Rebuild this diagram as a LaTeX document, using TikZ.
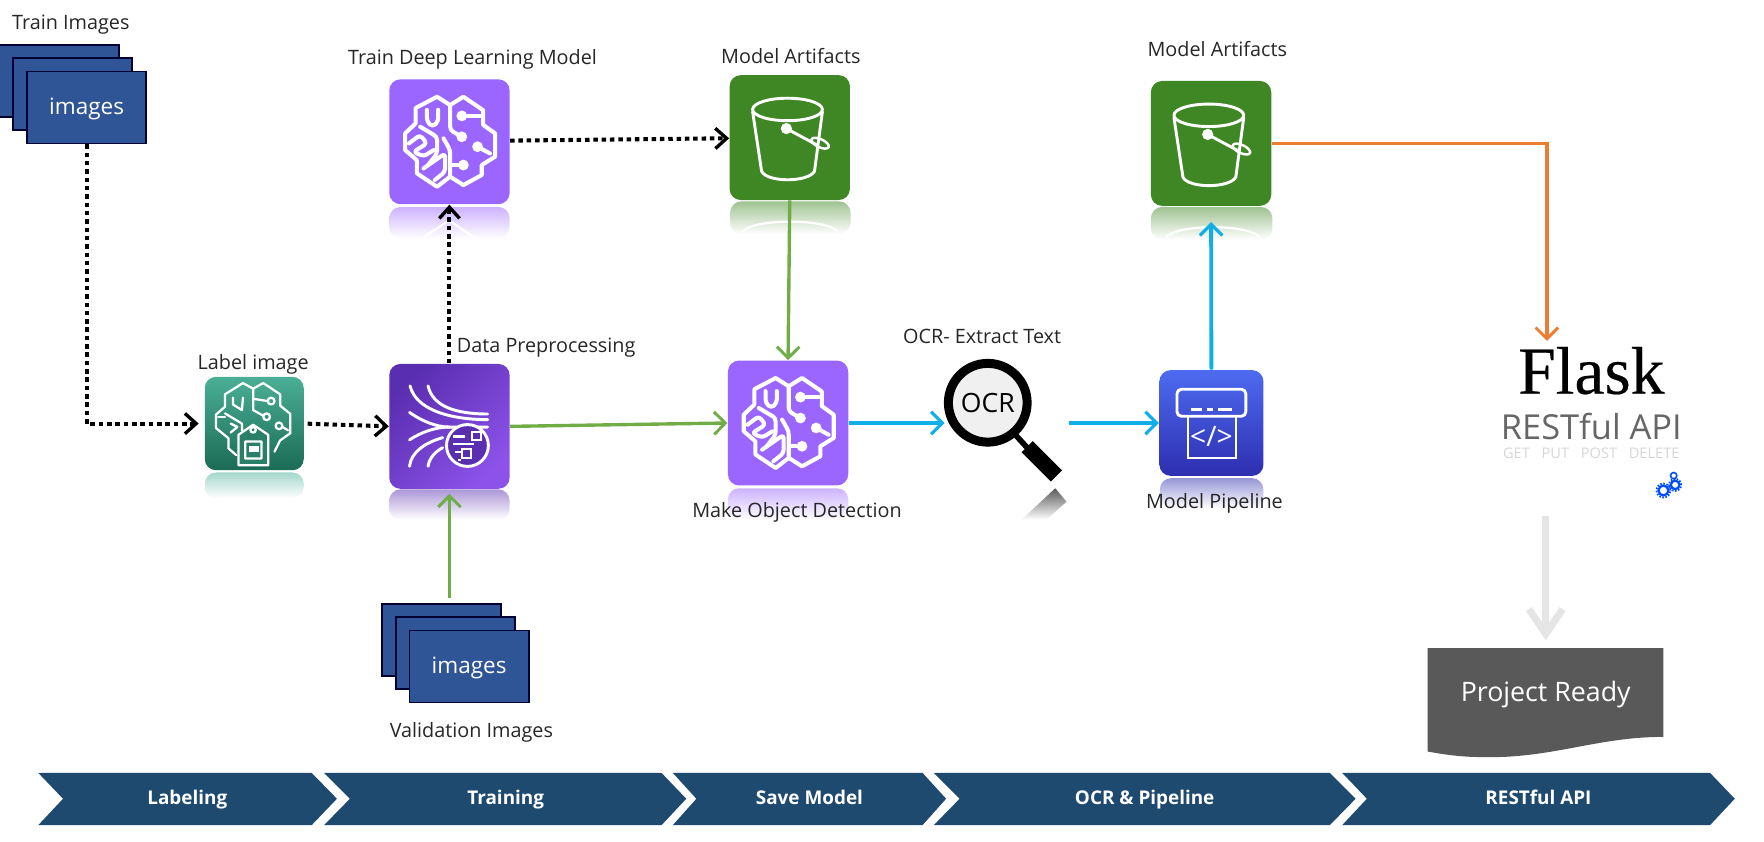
\documentclass[tikz,border=0pt]{standalone}
\usepackage{fontspec}
\setmainfont{Open Sans}
\newfontfamily\flaskfont[FakeBold=0.3]{Liberation Serif}
\usetikzlibrary{arrows.meta,calc}

\definecolor{cardblue}{HTML}{2F5597}
\definecolor{brainpurple}{HTML}{9B66FF}
\definecolor{bucketgreen}{HTML}{3F8624}
\definecolor{linegreen}{HTML}{70AD47}
\definecolor{lineblue}{HTML}{12AEE8}
\definecolor{lineorange}{HTML}{ED7D31}
\definecolor{stagenavy}{HTML}{1F4A6F}
\definecolor{readygray}{HTML}{595959}
\definecolor{preprocdark}{HTML}{5A2EB0}
\definecolor{preproclight}{HTML}{8C52EA}
\definecolor{labeltop}{HTML}{4AAF96}
\definecolor{labelbottom}{HTML}{1B6B55}
\definecolor{pipetop}{HTML}{4D6BF0}
\definecolor{pipebottom}{HTML}{2E2EB0}

\tikzset{
  caption/.style={font=\fontsize{8.8}{10}\selectfont,text=black!85,inner sep=0,yshift=-1pt},
  imgcard/.style={draw=black!80!blue,line width=0.8pt,fill=cardblue,text=white,inner sep=0,
    minimum width=53pt,minimum height=32pt,font=\fontsize{10}{12}\selectfont},
  iconbox/.style={rounded corners=5pt,inner sep=0,minimum width=53.5pt,minimum height=55.5pt},
  iconline/.style={draw=white,line width=1.3pt,line join=round,line cap=round},
  brainline/.style={draw=white,line width=1.8pt,line join=round,line cap=round,rounded corners=1.5pt},
  tagline/.style={draw=white,line width=1pt,line join=round,line cap=round},
  dotflow/.style={line width=1.8pt,dash pattern=on 2pt off 1.7pt,-{Straight Barb[length=5pt,width=9pt,line width=1.5pt]}},
  greenflow/.style={draw=linegreen,line width=1.5pt,-{Straight Barb[length=5pt,width=10pt,line width=1.3pt]}},
  blueflow/.style={draw=lineblue,line width=1.7pt,-{Straight Barb[length=5pt,width=10pt,line width=1.4pt]}},
}

% mirrored fade under an icon
\newcommand{\iconfade}[5]{\shade[rounded corners=5pt,top color=#5!50,bottom color=white] (#1,#2) rectangle (#3,#4);}

\newcommand{\brainicon}[2]{
  \begin{scope}[shift={(#1,#2)}]
    \draw[iconline,line width=1.8pt] (-11,-40) -- (0.6,-32.6) -- (12.4,-40) -- (30,-28) -- (30,-15) -- (40.6,-7.4) -- (40.6,13.3)
      -- (28.7,20.7) -- (28.7,29.6) -- (12.4,38.5) -- (0.6,31) -- (-11,40) -- (-29,28) -- (-29,16.3) -- (-39.4,7.4)
      -- (-39.4,-7.4) -- (-30,-16.3) -- (-30,-30) -- cycle;
    \draw[brainline] (0.6,-32.6) -- (0.6,-10.4) -- (11,-4.4);
    \draw[brainline] (11,-23) -- (27,-23);
    \draw[brainline] (25,4.4) -- (36,10.4);
    \draw[brainline] (12.4,20.7) -- (0.6,20.7);
    \draw[brainline] (0.6,31) -- (0.6,7.4) -- (-5.3,-3);
    \draw[brainline] (-20,-28.4) -- (-20,-18) -- (-15,-13.3) -- (-10,-18) -- (-10,-28.4);
    \draw[brainline] (-26,-13.3) -- (-11,-4.4) -- (-11,10.4) -- (-19,20.7);
    \draw[brainline] (-36,1.5) -- (-26,-6) -- (-20,1.5) -- (-32,9) -- (-23,13) -- (-14,7.4);
    \draw[brainline] (-23,23.7) -- (-3.9,10.4) -- (-3.9,26.7) -- (-13,34);
    \fill[white] (11,-4.4) circle (2.4pt) (11,-23) circle (2.4pt) (25,4.4) circle (2.4pt) (12.4,20.7) circle (2.4pt);
  \end{scope}
}
\newcommand{\bucketicon}[2]{
  \begin{scope}[shift={(#1,#2)}]
    \draw[iconline] (-2,-25) ellipse (15.5pt and 5pt);
    \draw[iconline] (-33,-23) -- (-25,30) .. controls (-20,40) and (16,40) .. (22,30) -- (29,-23);
    \draw[iconline] (-3,-8) -- (25,7);
    \draw[iconline,line width=1.1pt,rotate around={-25:(27,5)}] (27,5) ellipse (4.2pt and 1.8pt);
    \fill[white] (-3,-8) circle (2.5pt);
  \end{scope}
}
% stage bar
\newcommand{\stagebar}[6]{
  \fill[stagenavy] (#1,687) -- (#3,687) -- (#4,710) -- (#3,733.5) -- (#1,733.5) -- (#2,710) -- cycle;
  \node[inner sep=0,anchor=base,text=white,font=\bfseries\fontsize{8.4}{10}\selectfont] (#6) at ($(#2,715)!0.5!(#3,715)$) {#5};
}

\begin{document}
\begin{tikzpicture}[x=0.5pt,y=-0.5pt]
\useasboundingbox (0,0) rectangle (1568,748);

% fades go first
\iconfade{346}{184}{453}{212}{brainpurple}
\iconfade{182}{420}{270}{443}{labeltop}
\iconfade{346}{435}{453}{462}{preprocdark}
\iconfade{649}{179}{756}{208}{bucketgreen}
\iconfade{1023}{184}{1131}{213}{bucketgreen}
\iconfade{647}{434}{754}{462}{brainpurple}
\iconfade{1031}{425}{1123}{452}{pipebottom}
\draw[white,line width=1pt] (660,206) .. controls (670,194) and (735,194) .. (745,206);
\draw[white,line width=1pt] (1036,211) .. controls (1046,199) and (1110,199) .. (1120,211);
\draw[white,line width=1pt] (375,212) -- (399,196) -- (423,212);

% image stacks
\node[imgcard] (trainB) at (52.5,72) {};
\node[imgcard] (trainC) at (64.5,83.5) {};
\node[imgcard] (trainD) at (77,95.5) {\raisebox{-3pt}[0pt][0pt]{images}};
\node[imgcard] (validB) at (392.5,569) {};
\node[imgcard] (validC) at (405,580.5) {};
\node[imgcard] (validD) at (417,592.5) {\raisebox{-3pt}[0pt][0pt]{images}};

% boxes
\node[iconbox,fill=brainpurple] (brainA) at (399.5,126) {};
\node[iconbox,fill=brainpurple] (objdet) at (700.5,376) {};
\node[iconbox,fill=bucketgreen] (bucketA) at (702,122.3) {};
\node[iconbox,fill=bucketgreen] (bucketB) at (1076.5,127.5) {};
\node[iconbox,left color=preprocdark,right color=preproclight,shading angle=45] (preproc) at (399.5,379) {};
\node[iconbox,top color=labeltop,bottom color=labelbottom,minimum width=44pt,minimum height=41.5pt] (labelbox) at (226,376.5) {};
\node[iconbox,top color=pipetop,bottom color=pipebottom,minimum width=46.25pt,minimum height=47pt] (pipeline) at (1076.8,376) {};

\brainicon{399.5}{126}
\brainicon{700.5}{376}
\bucketicon{702}{122.3}
\bucketicon{1076.5}{127.5}

% label image icon
\begin{scope}[shift={(226,376.5)}]
  \draw[tagline] (-16,28) -- (-23,22) -- (-23,13) -- (-34,4) -- (-34,-8) -- (-26,-15) -- (-26,-26) -- (-10,-36) -- (-1,-31)
    -- (8,-36) -- (23,-26) -- (23,-16) -- (32,-8.6) -- (32,8.6) -- (23,15) -- (18,25);
  \draw[tagline] (-1,-31) -- (-1,-12) -- (8,-7);
  \draw[tagline] (-1,-22) -- (12,-20);
  \draw[tagline] (25,3) -- (30,6);
  \draw[tagline] (-19,-23) -- (-19,-17) -- (-11,-12) -- (-10,-23);
  \draw[tagline] (-26,-9) -- (-11,0) -- (-11,6);
  \draw[tagline] (-32,-6) -- (-26,-6);
  \draw[tagline] (-21,0) -- (-15,3) -- (-21,8);
  \draw[tagline] (11,-6) circle (1.5pt) (15,-20) circle (1.5pt) (22,2) circle (1.5pt);
  \draw[tagline,fill=labelbottom!70!labeltop] (-1,1) -- (12.4,10) -- (12.4,37) -- (-14,37) -- (-14,10) -- cycle;
  \draw[tagline] (-1,5.6) circle (1.2pt) (-8,16) rectangle (6.5,31);
  \fill[white] (-5,20) rectangle (4.5,25);
\end{scope}

% data preprocessing icon
\begin{scope}[shift={(399.5,379)}]
  \draw[iconline] (-35,-36) .. controls (-30,-15) and (0,-6) .. (34,-6);
  \draw[iconline] (-19,-36) .. controls (-15,-18) and (5,-11) .. (34,-11);
  \draw[iconline] (-35.5,-12.4) .. controls (-25,-5) and (-12,0.6) .. (0,0.6) -- (34,0.6);
  \draw[iconline] (-35.5,12) .. controls (-25,5) and (-12,0.6) .. (0,0.6);
  \draw[iconline] (-35.5,35.5) .. controls (-34,22) and (-20,14) .. (-6,10);
  \draw[iconline] (-19,35.5) .. controls (-18,28) and (-12,22) .. (-6,19);
  \filldraw[draw=white,line width=1.3pt,fill=preprocdark] (16,17) circle (9.3pt);
  \draw[white,line width=1pt] (3,9) -- (14,9) (3,16) -- (22,16) (5,23) -- (11,23) (8,30) -- (10,30);
  \draw[white,line width=1pt] (20,5) rectangle (28,12) (11,20) rectangle (19,28);
\end{scope}

% pipeline icon
\begin{scope}[shift={(1076.8,376)}]
  \draw[iconline,rounded corners=2pt] (-30.6,-30) rectangle (30.6,-6);
  \draw[white,line width=1pt] (-18,-12) -- (-8,-12) (-4,-12) -- (1,-12) (6,-12) -- (18,-12);
  \draw[white,line width=1.1pt] (-21,-6) rectangle (22,31);
  \node[text=white,inner sep=0,font=\fontsize{12.5}{14}\selectfont] (codetag) at (0,12) {</>};
\end{scope}

% OCR lens
\node[inner sep=0,minimum width=55pt,minimum height=50pt] (ocrlens) at (895,376) {};
\draw[black,line width=4pt,fill=black!6] (878,358) circle (17.5pt);
\node[inner sep=0,font=\fontsize{11.8}{13}\selectfont] (ocrword) at (878,358) {OCR};
\draw[black,line width=2.5pt] (903,387) -- (914,399);
\draw[black,line width=7pt] (913,397) -- (939,423);
\shade[top color=black!65,bottom color=white] (938,434) -- (948,446) -- (930,462) -- (908,462) -- cycle;

% flask block
\node[inner sep=0,font=\flaskfont\fontsize{30}{34}\selectfont,anchor=base] (flask) at (1414.5,350) {Flask};
\node[inner sep=0,text=black!60,font=\fontsize{15.3}{17}\selectfont,anchor=base] (restful) at (1414.5,391) {RESTful API};
\node[inner sep=0,text=black!16,font=\fontsize{6.5}{8}\selectfont,anchor=base] (verbs) at (1414.5,407.5) {GET\hspace{3.5pt} PUT\hspace{3.5pt} POST\hspace{3.5pt} DELETE};
\draw[blue!70!cyan,line width=1pt] (1478.6,436) circle (2.2pt) (1489,431) circle (1.9pt);
\draw[blue!70!cyan,line width=0.8pt,dash pattern=on 0.7pt off 0.7pt] (1478.6,436) circle (3.1pt) (1489,431) circle (2.7pt);
\draw[blue!70!cyan,line width=0.7pt] (1487.7,422.8) circle (1.4pt);
\coordinate (flaskin) at (1375,303);
\coordinate (flaskout) at (1374,459);

% project ready
\fill[readygray] (1269,576) -- (1478.6,576) -- (1478.6,655) .. controls (1420,655) and (1380,674) .. (1320,673) .. controls (1300,673) and (1285,671) .. (1269,668) -- cycle;
\node[inner sep=0,minimum width=104.8pt,minimum height=39pt,text=white,font=\fontsize{11.9}{14}\selectfont] (ready) at (1374,615.5) {\raisebox{-4pt}[0pt][0pt]{Project Ready}};

% captions
\node[caption] (capTrain) at (63,20) {Train Images};
\node[caption] (capBrain) at (420,51) {Train Deep Learning Model};
\node[caption] (capArtA) at (703,47.5) {Model Artifacts};
\node[caption] (capArtB) at (1082,42) {Model Artifacts};
\node[caption] (capLabel) at (225,322) {Label image};
\node[caption] (capPre) at (485.5,307) {Data Preprocessing};
\node[caption] (capOcr) at (873,297) {OCR- Extract Text};
\node[caption] (capDetect) at (708.5,453) {Make Object Detection};
\node[caption] (capPipe) at (1079.5,445) {Model Pipeline};
\node[caption] (capValid) at (419,649) {Validation Images};

\stagebar{34}{56}{277}{299.5}{Labeling}{stageLabel}
\stagebar{288}{311}{588}{610}{Training}{stageTrain}
\stagebar{598}{619}{820}{841}{Save Model}{stageSave}
\stagebar{830}{853}{1182}{1205}{OCR \& Pipeline}{stageOcr}
\stagebar{1193}{1215}{1520}{1542}{RESTful API}{stageRest}

% flows
\draw[dotflow,shorten >=2.5pt] (trainD.south) |- (labelbox.west);
\draw[dotflow,shorten <=1.5pt] (labelbox.east) -- (preproc.west);
\draw[dotflow] (preproc.north) -- (brainA.south);
\draw[dotflow] ([yshift=0.5pt]brainA.east) -- ([yshift=-0.3pt]bucketA.west);
\draw[greenflow] (bucketA.south) -- (objdet.north);
\draw[greenflow] (preproc.east) -- (objdet.west);
\draw[greenflow,shorten <=2.5pt,shorten >=2pt] (validB.north -| preproc.south) -- (preproc.south);
\draw[blueflow] (objdet.east) -- (ocrlens.west);
\draw[blueflow] (ocrlens.east) -- (pipeline.west);
\draw[blueflow,shorten >=7pt] (pipeline.north) -- (bucketB.south);
\draw[draw=lineorange,line width=1.6pt,-{Straight Barb[length=5pt,width=10pt,line width=1.3pt]}] (bucketB.east) -| (flaskin);
\draw[draw=black!10,line width=3.2pt,shorten >=3.5pt,-{Straight Barb[length=11pt,width=15pt,line width=3.2pt]}] (flaskout) -- (ready.north);
\end{tikzpicture}
\end{document}
